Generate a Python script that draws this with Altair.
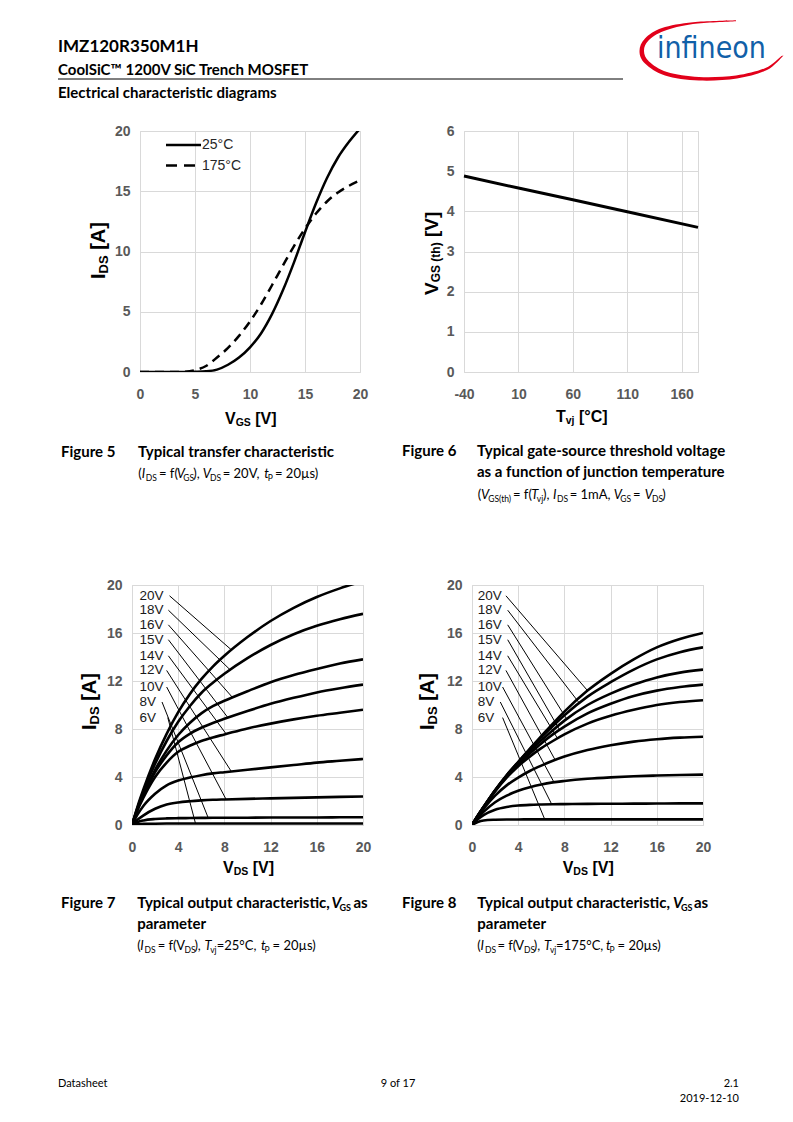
import altair as alt
import pandas as pd

# ------------------------------------------------------------------ data
# Figure 5 - typical transfer characteristic
fig5_vgs = [0, 1, 2, 3, 4, 5, 6, 7, 8, 9, 10, 11, 12, 13, 14, 15, 16, 17, 18, 19, 20]
fig5_ids_25c = [0, 0, 0, 0, 0, 0.02, 0.06, 0.2, 0.6, 1.2, 2.05, 3.2, 4.8, 6.8, 9.1, 11.6, 14.0, 16.1, 17.8, 19.1, 20.2]
fig5_ids_175c = [0, 0, 0, 0, 0.02, 0.15, 0.5, 1.2, 2.0, 3.0, 4.2, 5.6, 7.2, 8.85, 10.45, 11.9, 13.15, 14.15, 14.9, 15.45, 15.9]
fig5_series = ["25°C", "175°C"]
fig5_ticks = [0, 5, 10, 15, 20]

# Figure 6 - gate threshold voltage vs junction temperature
fig6_tvj = [-40, 10, 60, 110, 175]
fig6_vth = [4.88, 4.58, 4.29, 3.99, 3.60]
fig6_x_ticks = [-40, 10, 60, 110, 160]
fig6_y_ticks = [0, 1, 2, 3, 4, 5, 6]

# Figures 7 / 8 - output characteristics
out_vds = [0, 0.5, 1, 2, 3, 4, 5, 6, 7, 8, 10, 12, 14, 16, 18, 20]
vgs_labels = ["20V", "18V", "16V", "15V", "14V", "12V", "10V", "8V", "6V"]
out_ticks = [0, 4, 8, 12, 16, 20]

fig7_ids_20v = [0, 1.6, 3.0, 5.5, 7.6, 9.4, 10.9, 12.15, 13.2, 14.1, 15.66, 17.0, 18.1, 19.0, 19.72, 20.32]
fig7_ids_18v = [0, 1.5, 2.8, 5.1, 7.0, 8.6, 9.9, 11.0, 11.85, 12.6, 13.9, 15.0, 15.9, 16.6, 17.15, 17.6]
fig7_ids_16v = [0, 1.4, 2.6, 4.6, 6.2, 7.5, 8.5, 9.3, 9.9, 10.35, 11.15, 11.9, 12.5, 13.0, 13.45, 13.8]
fig7_ids_15v = [0, 1.35, 2.5, 4.4, 5.8, 6.9, 7.6, 8.1, 8.5, 8.85, 9.5, 10.1, 10.6, 11.05, 11.4, 11.7]
fig7_ids_14v = [0, 1.3, 2.3, 4.0, 5.2, 6.1, 6.6, 7.0, 7.3, 7.55, 8.05, 8.45, 8.8, 9.1, 9.35, 9.6]
fig7_ids_12v = [0, 0.9, 1.6, 2.6, 3.3, 3.7, 3.95, 4.15, 4.3, 4.4, 4.6, 4.8, 5.0, 5.2, 5.35, 5.5]
fig7_ids_10v = [0, 0.45, 0.8, 1.35, 1.7, 1.88, 1.98, 2.05, 2.1, 2.13, 2.18, 2.22, 2.26, 2.3, 2.34, 2.38]
fig7_ids_8v = [0, 0.25, 0.38, 0.5, 0.55, 0.57, 0.58, 0.59, 0.6, 0.6, 0.61, 0.62, 0.63, 0.63, 0.64, 0.65]
fig7_ids_6v = [0, 0.06, 0.09, 0.11, 0.12, 0.12, 0.12, 0.12, 0.12, 0.12, 0.12, 0.12, 0.13, 0.13, 0.13, 0.13]

fig8_ids_20v = [0, 0.78, 1.5, 2.9, 4.15, 5.25, 6.35, 7.4, 8.45, 9.45, 11.2, 12.6, 13.8, 14.8, 15.5, 16.0]
fig8_ids_18v = [0, 0.78, 1.5, 2.9, 4.15, 5.25, 6.3, 7.3, 8.25, 9.15, 10.7, 11.9, 12.95, 13.8, 14.4, 14.8]
fig8_ids_16v = [0, 0.77, 1.5, 2.88, 4.1, 5.15, 6.15, 7.05, 7.9, 8.7, 10.0, 10.95, 11.7, 12.3, 12.7, 12.95]
fig8_ids_15v = [0, 0.77, 1.48, 2.85, 4.05, 5.05, 5.95, 6.8, 7.55, 8.2, 9.3, 10.1, 10.75, 11.2, 11.5, 11.7]
fig8_ids_14v = [0, 0.76, 1.45, 2.8, 3.95, 4.9, 5.7, 6.4, 7.0, 7.55, 8.45, 9.1, 9.6, 10.0, 10.25, 10.4]
fig8_ids_12v = [0, 0.72, 1.35, 2.45, 3.3, 3.95, 4.5, 4.95, 5.35, 5.7, 6.25, 6.65, 6.95, 7.15, 7.28, 7.36]
fig8_ids_10v = [0, 0.62, 1.1, 1.9, 2.45, 2.85, 3.15, 3.38, 3.55, 3.67, 3.85, 3.97, 4.06, 4.12, 4.17, 4.2]
fig8_ids_8v = [0, 0.47, 0.82, 1.27, 1.5, 1.62, 1.68, 1.71, 1.73, 1.74, 1.76, 1.77, 1.78, 1.79, 1.8, 1.8]
fig8_ids_6v = [0, 0.25, 0.38, 0.44, 0.46, 0.46, 0.47, 0.47, 0.47, 0.47, 0.47, 0.47, 0.47, 0.47, 0.47, 0.47]

# curve-label anchors (data units) and leader-line ends on the curves
label_ids = [19.1, 17.9, 16.68, 15.44, 14.1, 12.88, 11.5, 10.25, 8.95]
fig7_label_vds = 0.64
fig7_leader_from_vds = [3.25, 3.15, 3.15, 3.15, 3.15, 3.0, 3.0, 2.6, 3.1]
fig7_leader_to_vds = [8.6, 8.5, 8.7, 8.3, 8.15, 8.6, 8.15, 6.6, 5.5]
fig7_leader_to_ids = [14.6, 12.93, 10.63, 8.95, 7.59, 4.46, 2.13, 0.59, 0.12]
fig8_label_vds = 0.49
fig8_leader_from_vds = [2.94, 3.09, 3.09, 3.09, 3.09, 2.94, 2.65, 2.45, 2.65]
fig8_leader_to_vds = [10.0, 9.3, 8.2, 7.6, 7.4, 7.2, 7.1, 6.9, 6.3]
fig8_leader_to_ids = [11.2, 10.15, 8.83, 7.9, 7.22, 5.42, 3.56, 1.73, 0.47]

# ------------------------------------------------------------------ styles
GRID = "#d9d9d9"
TICK_GREY = "#595959"
CHART_FONT = "Liberation Sans"
DOC_FONT = "Lato"
ONE = pd.DataFrame({"k": [0]})

# Arial / Liberation Sans Bold advance widths (em) for axis titles
AW = {"I": .278, "D": .722, "S": .667, " ": .278, "[": .333, "A": .722, "]": .333,
      "V": .667, "G": .778, "(": .333, "t": .333, "h": .611, ")": .333, "T": .611,
      "v": .556, "j": .278, "°": .4, "C": .722}


def txt(origin, s, px, py, size=12, weight="normal", style="normal", font=DOC_FONT,
        align="left", baseline="alphabetic", angle=0, color="#000000"):
    kw = dict(text=s, fontSize=size, fontWeight=weight, fontStyle=style, font=font,
              align=align, baseline=baseline, color=color)
    if angle:
        kw["angle"] = angle
    return alt.Chart(ONE).mark_text(**kw).encode(
        x=alt.value(px - origin[0]), y=alt.value(py - origin[1]))


def axis_title(origin, parts, x0, y0, rotated=False):
    layers, pos = [], 0.0
    for t, size, sub in parts:
        lead = len(t) - len(t.lstrip())
        pos += AW[" "] * size * lead
        t = t.lstrip()
        d = 2.5 if sub else 0
        if rotated:
            layers.append(txt(origin, t, x0 + d, y0 - pos, size=size, weight="bold",
                              font=CHART_FONT, angle=270))
        else:
            layers.append(txt(origin, t, x0 + pos, y0 + d, size=size, weight="bold",
                              font=CHART_FONT))
        pos += sum(AW[c] for c in t) * size
    return layers


def seg_line(origin, y, segs, size=13, sub=8.5, bold=False):
    layers = []
    for t, x, kind in segs:
        fs = sub if "s" in kind else size
        dy = 2.5 if "s" in kind else 0
        style = "italic" if "i" in kind else "normal"
        layers.append(txt(origin, t, x, y + dy, size=fs,
                          weight="bold" if bold else "normal", style=style))
    return layers


def axis(values, pad, expr=None):
    kw = dict(values=values, title=None, grid=True, gridColor=GRID, gridWidth=1,
              domain=False, ticks=False, tickSize=0, labelFont=CHART_FONT,
              labelFontSize=14, labelFontWeight="bold", labelColor=TICK_GREY,
              labelPadding=pad, labelFlush=False, labelOverlap=False)
    if expr:
        kw["labelExpr"] = expr
    return alt.Axis(**kw)


def smooth(pts):
    s, n = "", len(pts)
    for k in range(n - 1):
        p0, p1, p2, p3 = pts[max(k - 1, 0)], pts[k], pts[k + 1], pts[min(k + 2, n - 1)]
        c1 = (p1[0] + (p2[0] - p0[0]) / 6, p1[1] + (p2[1] - p0[1]) / 6)
        c2 = (p2[0] - (p3[0] - p1[0]) / 6, p2[1] - (p3[1] - p1[1]) / 6)
        s += " C %.4f %.4f %.4f %.4f %.4f %.4f" % (c1[0], c1[1], c2[0], c2[1], p2[0], p2[1])
    return s


# ------------------------------------------------------------------ panel 1 (Figure 5)
O1 = (139, 130)
df5 = pd.DataFrame({
    "v": fig5_vgs + fig5_vgs,
    "i": fig5_ids_25c + fig5_ids_175c,
    "t": [fig5_series[0]] * len(fig5_vgs) + [fig5_series[1]] * len(fig5_vgs),
})
x5 = alt.X("v:Q", scale=alt.Scale(domain=[0, 20], nice=False), axis=axis(fig5_ticks, 15))
y5 = alt.Y("i:Q", scale=alt.Scale(domain=[0, 20], nice=False), axis=axis(fig5_ticks, 10))
base5 = alt.Chart(df5).encode(x=x5, y=y5)
p1_layers = [
    base5.transform_filter(alt.datum.t == fig5_series[0]).mark_line(
        color="black", strokeWidth=2.5, clip=True, interpolate="monotone"),
    base5.transform_filter(alt.datum.t == fig5_series[1]).mark_line(
        color="black", strokeWidth=2.5, clip=True, interpolate="monotone", strokeDash=[9, 6]),
    # legend
    alt.Chart(ONE).mark_rule(color="black", strokeWidth=2.5).encode(
        x=alt.value(165 - O1[0]), x2=alt.value(200 - O1[0]), y=alt.value(144 - O1[1])),
    alt.Chart(ONE).mark_rule(color="black", strokeWidth=2.5, strokeDash=[11, 7]).encode(
        x=alt.value(165 - O1[0]), x2=alt.value(201 - O1[0]), y=alt.value(164.5 - O1[1])),
    txt(O1, fig5_series[0], 201, 144, size=14, font=CHART_FONT, baseline="middle", color="#262626"),
    txt(O1, fig5_series[1], 201, 165, size=14, font=CHART_FONT, baseline="middle", color="#262626"),
]
p1_layers += axis_title(O1, [("V", 16, False), ("GS", 10.5, True), (" [V]", 16, False)], 224, 422.7)
p1_layers += axis_title(O1, [("I", 20, False), ("DS", 13, True), (" [A]", 20, False)], 104, 278, rotated=True)
# page header
p1_layers += [
    txt(O1, "IMZ120R350M1H", 57, 51, size=17, weight="bold"),
    txt(O1, "CoolSiC™ 1200V SiC Trench MOSFET", 57, 73.5, size=15, weight="bold"),
    alt.Chart(ONE).mark_rule(color="black", strokeWidth=1).encode(
        x=alt.value(57 - O1[0]), x2=alt.value(622 - O1[0]), y=alt.value(78 - O1[1])),
    txt(O1, "Electrical characteristic diagrams", 57, 96.5, size=15, weight="bold"),
]
# caption figure 5
p1_layers += [
    txt(O1, "Figure 5", 60, 456, size=15, weight="bold"),
    txt(O1, "Typical transfer characteristic", 137, 456, size=15, weight="bold"),
]
p1_layers += seg_line(O1, 477, [
    ("(", 137.3, "n"), ("I", 140.7, "i"), ("DS", 144.7, "s"), ("= f(", 158, "n"),
    ("V", 175.7, "i"), ("GS", 182.3, "s"), ("),", 192.3, "n"), ("V", 201.7, "i"),
    ("DS", 209, "s"), ("= 20V,", 221.7, "n"), ("t", 263.3, "i"), ("P", 266.7, "s"),
    ("= 20µs)", 274, "n")])
p1 = alt.layer(*p1_layers).properties(width=220, height=241)

# ------------------------------------------------------------------ panel 2 (Figure 6)
O2 = (463, 130)
df6 = pd.DataFrame({"t": fig6_tvj, "vth": fig6_vth})
x6 = alt.X("t:Q", scale=alt.Scale(domain=[-40, 175], nice=False, zero=False),
           axis=axis(fig6_x_ticks, 15, "'' + datum.value"))
y6 = alt.Y("vth:Q", scale=alt.Scale(domain=[0, 6], nice=False), axis=axis(fig6_y_ticks, 10))
p2_layers = [alt.Chart(df6).mark_line(color="black", strokeWidth=3).encode(x=x6, y=y6)]
p2_layers += axis_title(O2, [("T", 16, False), ("vj", 10.5, True), (" [°C]", 16, False)], 555, 420.5)
p2_layers += axis_title(O2, [("V", 19, False), ("GS", 12, True), (" (th)", 12, True), (" [V]", 19, False)],
                        436.5, 294, rotated=True)
p2_layers += [
    txt(O2, "Figure 6", 401, 455, size=15, weight="bold"),
    txt(O2, "Typical gate-source threshold voltage", 476, 455, size=15, weight="bold"),
    txt(O2, "as a function of junction temperature", 476, 476, size=15, weight="bold"),
]
p2_layers += seg_line(O2, 498, [
    ("(", 476.7, "n"), ("V", 480, "i"), ("GS(th)", 487.3, "s"), ("= f(", 512, "n"),
    ("T", 530.3, "i"), ("vj", 535.8, "s"), ("),", 542, "n"), ("I", 552, "i"), ("DS", 556, "s"),
    ("= 1mA,", 568.7, "n"), ("V", 612.7, "i"), ("GS", 619.3, "s"), ("=", 632, "n"),
    ("V", 643.7, "i"), ("DS", 651, "s"), (")", 661.3, "n")])
# Infineon logo
outer = [(735, 19.2), (692, 21.2), (661, 27), (644, 37.5), (638.5, 50), (644, 62.5), (664, 74.5),
         (698, 79.5), (736, 77.5), (766, 69), (782.5, 54.5)]
inner = [(780.5, 55), (764.5, 67), (735, 74.5), (698, 76), (666, 71), (648, 60.5), (643, 50),
         (647.5, 39.5), (663, 30), (692, 23), (735, 20.2)]
LC, LS = (711, 48), 75.0
uo = [((x - LC[0]) / LS, (y - LC[1]) / LS) for x, y in outer]
ui = [((x - LC[0]) / LS, (y - LC[1]) / LS) for x, y in inner]
swoosh = ("M %.4f %.4f" % uo[0]) + smooth(uo) + (" L %.4f %.4f" % ui[0]) + smooth(ui) + " Z"
p2_layers += [
    alt.Chart(ONE).mark_point(shape=swoosh, size=(2 * LS) ** 2, filled=True, color="#e2001a",
                              opacity=1, strokeWidth=0).encode(
        x=alt.value(LC[0] - O2[0]), y=alt.value(LC[1] - O2[1])),
    txt(O2, "infineon", 656, 57, size=30,
        font="DejaVu Sans Condensed, sans-serif", color="#1160a8"),
]
p2 = alt.layer(*p2_layers).properties(width=234, height=241)


# ------------------------------------------------------------------ panels 3 / 4 (Figures 7, 8)
def out_panel(origin, curves, label_v, from_v, to_v, to_i):
    rows = []
    for lab, ids in zip(vgs_labels, curves):
        for v, i in zip(out_vds, ids):
            rows.append({"v": v, "i": i, "vgs": lab})
    df = pd.DataFrame(rows)
    sx = alt.Scale(domain=[0, 20], nice=False)
    sy = alt.Scale(domain=[0, 20], nice=False)
    ax, ay = axis(out_ticks, 15), axis(out_ticks, 10)
    lines = alt.Chart(df).mark_line(color="black", strokeWidth=2.6, clip=True,
                                    interpolate="monotone").encode(
        x=alt.X("v:Q", scale=sx, axis=ax), y=alt.Y("i:Q", scale=sy, axis=ay), detail="vgs:N")
    ldf = pd.DataFrame({"v0": from_v, "i0": label_ids, "v1": to_v, "i1": to_i,
                        "lv": [label_v] * len(vgs_labels), "lab": vgs_labels})
    leaders = alt.Chart(ldf).mark_rule(color="black", strokeWidth=1).encode(
        x=alt.X("v0:Q", scale=sx, axis=ax), y=alt.Y("i0:Q", scale=sy, axis=ay),
        x2="v1:Q", y2="i1:Q")
    labels = alt.Chart(ldf).mark_text(font=CHART_FONT, fontSize=13.5, align="left",
                                      baseline="middle", color="#1a1a1a").encode(
        x=alt.X("lv:Q", scale=sx, axis=ax), y=alt.Y("i0:Q", scale=sy, axis=ay), text="lab:N")
    return [lines, leaders, labels]


O3 = (131, 584)
p3_layers = out_panel(O3, [fig7_ids_20v, fig7_ids_18v, fig7_ids_16v, fig7_ids_15v, fig7_ids_14v,
                           fig7_ids_12v, fig7_ids_10v, fig7_ids_8v, fig7_ids_6v],
                      fig7_label_vds, fig7_leader_from_vds, fig7_leader_to_vds, fig7_leader_to_ids)
p3_layers += axis_title(O3, [("V", 16, False), ("DS", 10.5, True), (" [V]", 16, False)], 222, 871.7)
p3_layers += axis_title(O3, [("I", 20, False), ("DS", 13, True), (" [A]", 20, False)], 95, 729, rotated=True)
p3_layers += [
    txt(O3, "Figure 7", 60, 907, size=15, weight="bold"),
    txt(O3, "Typical output characteristic,", 136.2, 907, size=15, weight="bold"),
    txt(O3, "V", 330.4, 907, size=15, weight="bold", style="italic"),
    txt(O3, "GS", 338.5, 909.5, size=9, weight="bold"),
    txt(O3, "as", 352.5, 907, size=15, weight="bold"),
    txt(O3, "parameter", 136.2, 928, size=15, weight="bold"),
]
p3_layers += seg_line(O3, 949, [
    ("(", 136.2, "n"), ("I", 139.2, "i"), ("DS", 143.5, "s"), ("= f(", 156.7, "n"),
    ("V", 175.2, "n"), ("DS", 183.5, "s"), ("),", 193.4, "n"), ("T", 203.4, "i"),
    ("vj", 209.2, "s"), ("=25°C,", 215.7, "n"), ("t", 260, "i"), ("P", 263.6, "s"),
    ("= 20µs)", 271.6, "n")])
p3_layers += [
    txt(O3, "Datasheet", 57, 1086, size=11),
    txt(O3, "9 of 17", 397, 1086, size=11, align="center"),
    # invisible anchor that pins the page's top-left corner
    alt.Chart(ONE).mark_rect(color="white").encode(
        x=alt.value(8 - O3[0]), x2=alt.value(10 - O3[0]), y=alt.value(8 - O3[1]), y2=alt.value(10 - O3[1])),
]
p3 = alt.layer(*p3_layers).properties(width=231, height=240)

O4 = (471, 584)
p4_layers = out_panel(O4, [fig8_ids_20v, fig8_ids_18v, fig8_ids_16v, fig8_ids_15v, fig8_ids_14v,
                           fig8_ids_12v, fig8_ids_10v, fig8_ids_8v, fig8_ids_6v],
                      fig8_label_vds, fig8_leader_from_vds, fig8_leader_to_vds, fig8_leader_to_ids)
p4_layers += axis_title(O4, [("V", 16, False), ("DS", 10.5, True), (" [V]", 16, False)], 561.7, 871.7)
p4_layers += axis_title(O4, [("I", 20, False), ("DS", 13, True), (" [A]", 20, False)], 433, 729, rotated=True)
p4_layers += [
    txt(O4, "Figure 8", 401, 907, size=15, weight="bold"),
    txt(O4, "Typical output characteristic,", 476.3, 907, size=15, weight="bold"),
    txt(O4, "V", 671.9, 907, size=15, weight="bold", style="italic"),
    txt(O4, "GS", 680, 909.5, size=9, weight="bold"),
    txt(O4, "as", 693, 907, size=15, weight="bold"),
    txt(O4, "parameter", 476.3, 928, size=15, weight="bold"),
]
p4_layers += seg_line(O4, 949, [
    ("(", 476.3, "n"), ("I", 479.5, "i"), ("DS", 484, "s"), ("= f(", 496.4, "n"),
    ("V", 514.3, "n"), ("DS", 523, "s"), ("),", 532.8, "n"), ("T", 543, "i"),
    ("vj", 548.9, "s"), ("=175°C,", 555.1, "n"), ("t", 605, "i"), ("P", 608.6, "s"),
    ("= 20µs)", 616.6, "n")])
p4_layers += [
    txt(O4, "2.1", 738, 1086, size=11, align="right"),
    txt(O4, "2019-12-10", 738, 1101, size=11, align="right"),
]
p4 = alt.layer(*p4_layers).properties(width=231, height=240)

# ------------------------------------------------------------------ page layout
spacer = alt.Chart(ONE).mark_point(opacity=0).encode(
    x=alt.value(0), y=alt.value(0)).properties(
    width=8, height=241, view=alt.ViewBackground(strokeOpacity=0))

row1 = alt.hconcat(spacer, alt.hconcat(p1, p2, spacing=104, bounds="flush"),
                   spacing=0, bounds="flush")
row2 = alt.hconcat(p3, p4, spacing=109, bounds="flush")

# nested concat rows count as zero height under "flush" bounds, so the
# spacing is the full distance between the two rows' top edges
chart = alt.vconcat(row1, row2, spacing=454, bounds="flush").properties(
    padding=0, background="white"
).configure_view(stroke=GRID, strokeWidth=1)

chart.save("out.html", embed_options={"renderer": "svg", "actions": False})
